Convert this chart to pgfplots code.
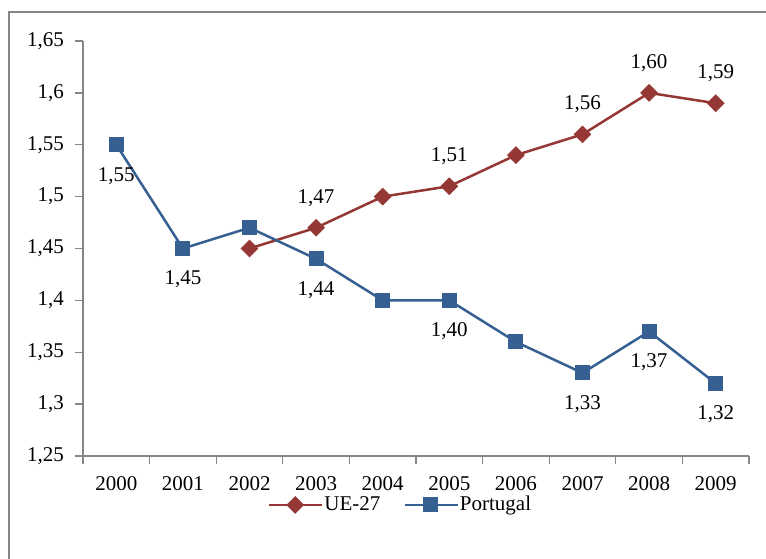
\documentclass[border=0pt]{standalone}
\usepackage{fontspec}
\setmainfont{Liberation Serif}
\usepackage{pgfplots}
\pgfplotsset{compat=1.18}
\definecolor{ue}{HTML}{953735}
\definecolor{pt}{HTML}{376092}
\definecolor{ax}{HTML}{868686}
\begin{document}
\fontsize{21}{25}\selectfont
\begin{tikzpicture}
\useasboundingbox (0pt,0pt) rectangle (766pt,559pt);
\draw[ax, line width=2pt] (9pt,0pt) -- (9pt,547pt) -- (766pt,547pt);
\begin{axis}[
  at={(83pt,103pt)}, anchor=south west, scale only axis,
  width=666pt, height=415pt,
  xmin=-0.5, xmax=9.5, ymin=1.25, ymax=1.65,
  axis x line*=bottom, axis y line*=left,
  axis line style={ax, line width=1.3pt},
  xtick={0,1,2,3,4,5,6,7,8,9},
  xticklabels={2000,2001,2002,2003,2004,2005,2006,2007,2008,2009},
  minor xtick={-0.5,0.5,1.5,2.5,3.5,4.5,5.5,6.5,7.5,8.5,9.5},
  major x tick style={draw=none},
  ytick={1.25,1.3,1.35,1.4,1.45,1.5,1.55,1.6,1.65},
  yticklabels={{1,25},{1,3},{1,35},{1,4},{1,45},{1,5},{1,55},{1,6},{1,65}},
  tick align=outside,
  tick style={ax, line width=1.3pt},
  major tick length=8pt, minor tick length=8pt,
  tick label style={font=\fontsize{21}{25}\selectfont},
  yticklabel style={xshift=-4pt},
  xticklabel style={yshift=-5pt},
  legend columns=2,
  legend style={at={(0.476,-0.118)}, anchor=center, draw=none, fill=none,
    font=\fontsize{21}{21}\selectfont, inner sep=0pt,
    nodes={inner sep=1pt},
    /tikz/every even column/.append style={column sep=22pt}},
  legend image code/.code={\draw[mark repeat=2, mark phase=2] plot coordinates {(0pt,0pt) (26pt,0pt) (53pt,0pt)};},
]
\addplot[ue, line width=2.5pt, mark=square*, mark size=6pt,
  mark options={solid, line width=0.5pt, rotate=45}]
  coordinates {(2,1.45) (3,1.47) (4,1.50) (5,1.51) (6,1.54) (7,1.56) (8,1.60) (9,1.59)};
\addlegendentry{UE-27}
\addplot[pt, line width=2.5pt, mark=square*, mark size=7pt,
  mark options={solid, line width=1pt, rounded corners=2pt}]
  coordinates {(0,1.55) (1,1.45) (2,1.47) (3,1.44) (4,1.40) (5,1.40) (6,1.36) (7,1.33) (8,1.37) (9,1.32)};
\addlegendentry{Portugal}
\addplot[draw=none, mark=none, forget plot, nodes near coords, point meta=explicit symbolic,
  nodes near coords style={anchor=center, yshift=30pt, text=black, font=\fontsize{21}{25}\selectfont}]
  coordinates {(3,1.47)[1,47] (5,1.51)[1,51] (7,1.56)[1,56] (8,1.60)[1,60] (9,1.59)[1,59]};
\addplot[draw=none, mark=none, forget plot, nodes near coords, point meta=explicit symbolic,
  nodes near coords style={anchor=center, yshift=-31pt, text=black, font=\fontsize{21}{25}\selectfont}]
  coordinates {(0,1.55)[1,55] (1,1.45)[1,45] (3,1.44)[1,44] (5,1.40)[1,40] (7,1.33)[1,33] (8,1.37)[1,37] (9,1.32)[1,32]};
\end{axis}
\end{tikzpicture}
\end{document}
